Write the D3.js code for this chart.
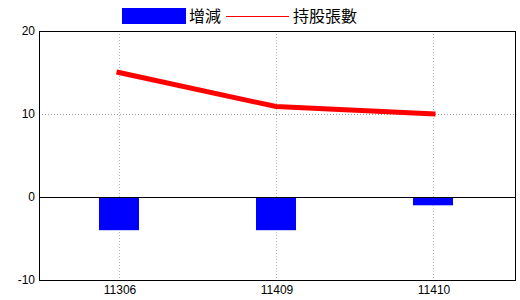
<!DOCTYPE html>
<html>
<head>
<meta charset="utf-8">
<style>
  body { margin: 0; background: #fff; }
  svg { font-family: "Liberation Sans", "DejaVu Sans", sans-serif; }
</style>
</head>
<body>
<svg width="520" height="300"></svg>
<script src="https://cdn.jsdelivr.net/npm/d3@7/dist/d3.min.js"></script>
<script>
var categories = ["11306", "11409", "11410"];
var changeValues = [-4, -4, -1];      // 增減
var holdingValues = [15, 10.9, 10];   // 持股張數
var yTicks = [-10, 0, 10, 20];

var svg = d3.select("svg");
var plotL = 39, plotR = 515, plotT = 31, plotB = 280;

var x = d3.scalePoint()
    .domain(categories)
    .range([plotL + 80, plotR - 82]);

var y = d3.scaleLinear()
    .domain([-10, 20])
    .range([plotB, plotT]);

// grid
svg.append("g").selectAll("line")
    .data(categories)
  .enter().append("line")
    .attr("x1", function(d) { return x(d) + 0.5; })
    .attr("x2", function(d) { return x(d) + 0.5; })
    .attr("y1", plotT)
    .attr("y2", plotB)
    .style("stroke", "#a8b8c8")
    .style("stroke-dasharray", "1,2");

svg.append("line")
    .attr("x1", plotL)
    .attr("x2", plotR)
    .attr("y1", Math.round(y(10)) + 0.5)
    .attr("y2", Math.round(y(10)) + 0.5)
    .style("stroke", "#999")
    .style("stroke-dasharray", "1,2");

// bars
svg.append("g").selectAll("rect")
    .data(changeValues)
  .enter().append("rect")
    .attr("x", function(d, i) { return x(categories[i]) - 20; })
    .attr("width", 40)
    .attr("y", function(d) { return y(Math.max(0, d)); })
    .attr("height", function(d) { return Math.abs(y(d) - y(0)); })
    .attr("fill", "#0000ff");

// zero line
svg.append("line")
    .attr("x1", plotL)
    .attr("x2", plotR)
    .attr("y1", Math.round(y(0)) + 0.5)
    .attr("y2", Math.round(y(0)) + 0.5)
    .style("stroke", "#000");

// line series
var line = d3.line()
    .x(function(d, i) { return x(categories[i]); })
    .y(function(d) { return y(d); });

svg.append("path")
    .datum(holdingValues)
    .attr("d", line)
    .attr("fill", "none")
    .attr("stroke", "#ff0000")
    .attr("stroke-width", 5)
    .attr("stroke-linecap", "square");

// frame
svg.append("rect")
    .attr("x", plotL + 0.5)
    .attr("y", plotT + 0.5)
    .attr("width", plotR - plotL)
    .attr("height", plotB - plotT)
    .attr("fill", "none")
    .attr("stroke", "#000");

// y labels
svg.append("g").selectAll("text")
    .data(yTicks)
  .enter().append("text")
    .attr("x", plotL - 4)
    .attr("y", function(d) { return y(d); })
    .attr("dy", "0.35em")
    .attr("text-anchor", "end")
    .style("font-size", "12px")
    .text(function(d) { return d; });

// x labels
svg.append("g").selectAll("text")
    .data(categories)
  .enter().append("text")
    .attr("x", function(d) { return x(d) + 1; })
    .attr("y", plotB + 14)
    .attr("text-anchor", "middle")
    .style("font-size", "12px")
    .text(function(d) { return d; });

// legend
var legend = svg.append("g");
legend.append("rect")
    .attr("x", 122).attr("y", 8)
    .attr("width", 64).attr("height", 16)
    .attr("fill", "#0000ff");
legend.append("text")
    .attr("x", 189).attr("y", 22)
    .style("font-family", "'Noto Sans CJK TC', sans-serif")
    .style("font-size", "16px")
    .text("增減");
legend.append("line")
    .attr("x1", 226).attr("x2", 289)
    .attr("y1", 16.5).attr("y2", 16.5)
    .attr("stroke", "#ff0000");
legend.append("text")
    .attr("x", 293).attr("y", 22)
    .style("font-family", "'Noto Sans CJK TC', sans-serif")
    .style("font-size", "16px")
    .text("持股張數");
</script>
</body>
</html>
